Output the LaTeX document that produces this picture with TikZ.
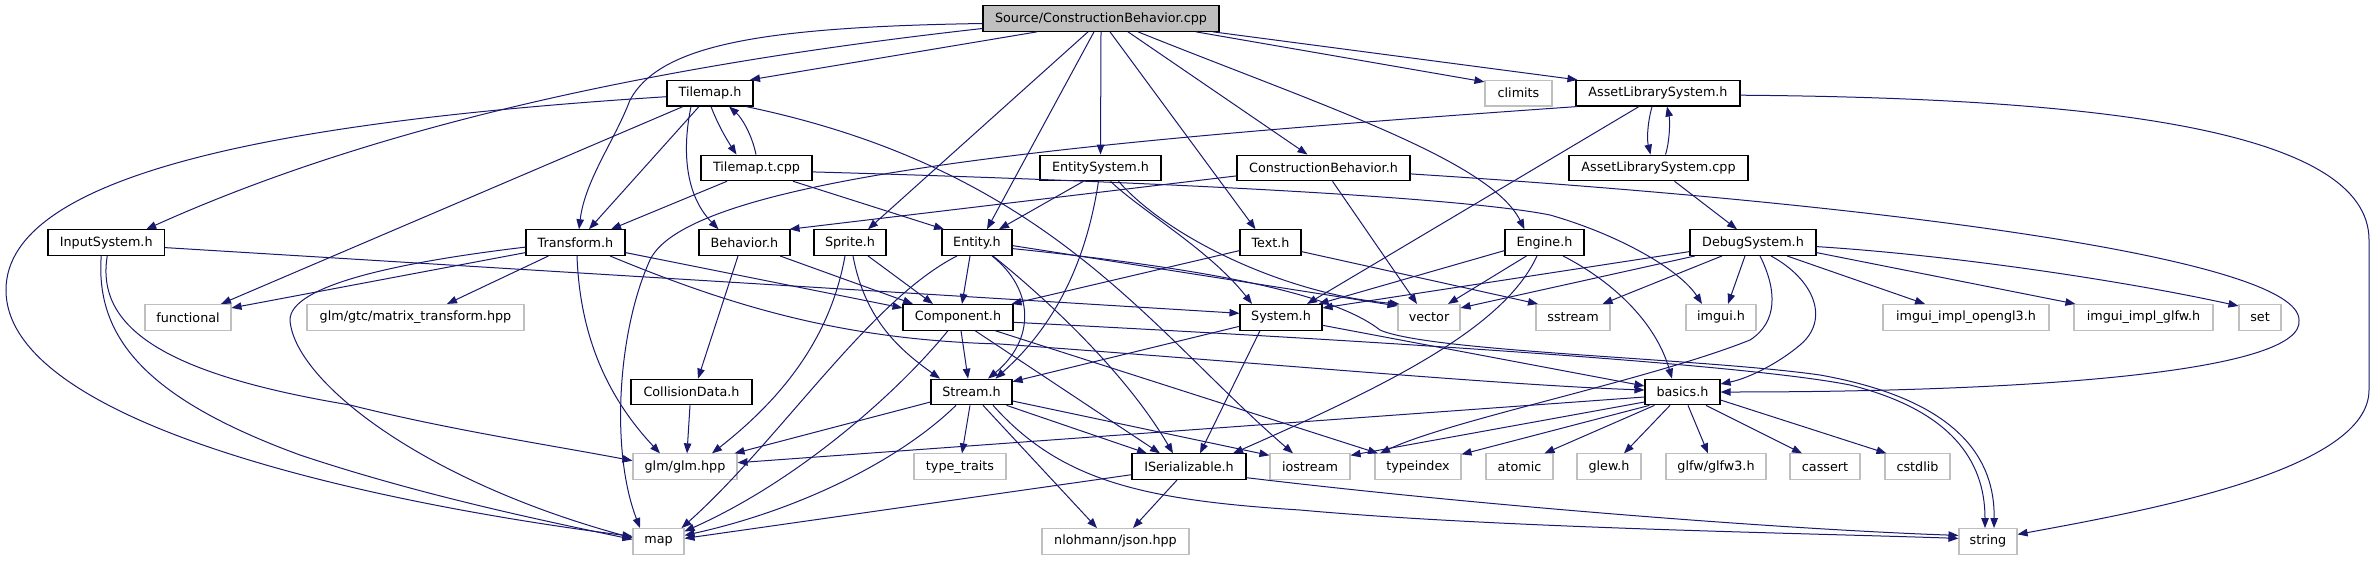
\documentclass[tikz,border=0pt]{standalone}
\usepackage{fontspec}
\setmainfont{DejaVu Sans}
\usetikzlibrary{arrows.meta}
\definecolor{edgeblue}{HTML}{191970}
\definecolor{grayb}{HTML}{BFBFBF}
\begin{document}
\begin{tikzpicture}[x=1pt,y=-1pt,
  font=\fontsize{12.75}{15}\selectfont,
  hdr/.style={draw=black, line width=1.1pt, fill=white, inner sep=0pt, minimum height=25.6pt, anchor=center},
  sysh/.style={hdr, draw=grayb},
  rooth/.style={hdr, fill=grayb},
  lnk/.style={draw=edgeblue, line width=1pt, -{Triangle[length=10pt,width=7.5pt]}}]
\useasboundingbox[fill=white] (0,0) rectangle (2374,560);
% row 0
\node[rooth, minimum width=236pt] (Source) at (1101,18.5) {Source/ConstructionBehavior.cpp};
% row 1
\node[hdr, minimum width=86pt] (Tilemap) at (710,93.2) {Tilemap.h};
\node[sysh, minimum width=67pt] (climits) at (1518.5,93.2) {climits};
\node[hdr, minimum width=164pt] (ALSh) at (1658,93.2) {AssetLibrarySystem.h};
% row 2
\node[hdr, minimum width=111pt] (Tilemapt) at (756.5,167.9) {Tilemap.t.cpp};
\node[hdr, minimum width=121pt] (EntSys) at (1100.5,167.9) {EntitySystem.h};
\node[hdr, minimum width=173pt] (CB) at (1323.5,167.9) {ConstructionBehavior.h};
\node[hdr, minimum width=179pt] (ALScpp) at (1658.5,167.9) {AssetLibrarySystem.cpp};
% row 3
\node[hdr, minimum width=116.5pt] (Input) at (106.25,242.6) {InputSystem.h};
\node[hdr, minimum width=99pt] (Transform) at (575.5,242.6) {Transform.h};
\node[hdr, minimum width=91pt] (Behavior) at (744.5,242.6) {Behavior.h};
\node[hdr, minimum width=72pt] (Sprite) at (850,242.6) {Sprite.h};
\node[hdr, minimum width=70pt] (Entity) at (977,242.6) {Entity.h};
\node[hdr, minimum width=61pt] (Text) at (1270.5,242.6) {Text.h};
\node[hdr, minimum width=79pt] (Engine) at (1544.5,242.6) {Engine.h};
\node[hdr, minimum width=126pt] (Debug) at (1753,242.6) {DebugSystem.h};
% row 4
\node[sysh, minimum width=86pt] (functional) at (188,317.3) {functional};
\node[sysh, minimum width=217pt] (matrix) at (415.5,317.3) {glm/gtc/matrix\_transform.hpp};
\node[hdr, minimum width=110pt] (Component) at (958,317.3) {Component.h};
\node[hdr, minimum width=82pt] (System) at (1281,317.3) {System.h};
\node[sysh, minimum width=62pt] (vector) at (1429,317.3) {vector};
\node[sysh, minimum width=74pt] (sstream) at (1573,317.3) {sstream};
\node[sysh, minimum width=70pt] (imgui) at (1721,317.3) {imgui.h};
\node[sysh, minimum width=166pt] (opengl) at (1966,317.3) {imgui\_impl\_opengl3.h};
\node[sysh, minimum width=139pt] (glfw) at (2143.5,317.3) {imgui\_impl\_glfw.h};
\node[sysh, minimum width=42pt] (setn) at (2260,317.3) {set};
% row 5
\node[hdr, minimum width=121pt] (Collision) at (691.5,392) {CollisionData.h};
\node[hdr, minimum width=81pt] (Stream) at (971.5,392) {Stream.h};
\node[hdr, minimum width=75pt] (basics) at (1682.5,392) {basics.h};
% row 6
\node[sysh, minimum width=104pt] (glm) at (685,466.7) {glm/glm.hpp};
\node[sysh, minimum width=92pt] (typetraits) at (960,466.7) {type\_traits};
\node[hdr, minimum width=114pt] (ISer) at (1189,466.7) {ISerializable.h};
\node[sysh, minimum width=80pt] (iostream) at (1310,466.7) {iostream};
\node[sysh, minimum width=86pt] (typeindex) at (1418,466.7) {typeindex};
\node[sysh, minimum width=67pt] (atomic) at (1519.5,466.7) {atomic};
\node[sysh, minimum width=64pt] (glew) at (1609,466.7) {glew.h};
\node[sysh, minimum width=100pt] (glfwthree) at (1716,466.7) {glfw/glfw3.h};
\node[sysh, minimum width=70pt] (cassert) at (1825,466.7) {cassert};
\node[sysh, minimum width=65pt] (cstdlib) at (1917.5,466.7) {cstdlib};
% row 7
\node[sysh, minimum width=51pt] (map) at (658.5,541.4) {map};
\node[sysh, minimum width=147pt] (json) at (1115.5,541.4) {nlohmann/json.hpp};
\node[sysh, minimum width=58pt] (stringn) at (1988,541.4) {string};

% Source
\draw[lnk] ([xshift=-64]Source.south) -- ([xshift=40]Tilemap.north);
\draw[lnk] ([yshift=-10]Source.west) .. controls (700,60) and (400,115) .. ([xshift=40]Input.north);
\draw[lnk] ([yshift=-5]Source.west) .. controls (760,27) and (660,45) .. (630,100) .. controls (615,140) and (585,180) .. ([xshift=3.5]Transform.north);
\draw[lnk] ([xshift=-13]Source.south) -- ([xshift=18]Sprite.north);
\draw[lnk] ([xshift=-7]Source.south) -- ([xshift=10]Entity.north);
\draw[lnk] (Source.south) -- (EntSys.north);
\draw[lnk] ([xshift=9]Source.south) -- ([xshift=-15]Text.north);
\draw[lnk] ([xshift=27]Source.south) -- ([xshift=-16]CB.north);
\draw[lnk] ([xshift=37]Source.south) .. controls (1320,105) and (1490,160) .. ([xshift=-20]Engine.north);
\draw[lnk] ([xshift=95]Source.south) -- ([yshift=-2]climits.north west);
\draw[lnk] ([xshift=112]Source.south) -- ([xshift=2]ALSh.north west);
% Tilemap.h
\draw[lnk] ([yshift=-3.5]Tilemap.west) .. controls (300,120) and (6,170) .. (6,290) .. controls (6,420) and (350,500) .. ([yshift=5]map.west);
\draw[lnk] ([xshift=-27]Tilemap.south) -- ([xshift=33]functional.north);
\draw[lnk] ([xshift=-11]Tilemap.south) -- ([xshift=13.5]Transform.north);
\draw[lnk] ([xshift=1]Tilemap.south) .. controls (718,125) and (727,140) .. ([xshift=-20]Tilemapt.north);
\draw[lnk] ([xshift=-0.5]Tilemapt.north) .. controls (752,135) and (742,118) .. ([xshift=19]Tilemap.south);
\draw[lnk] ([xshift=-19]Tilemap.south) .. controls (682,150) and (685,195) .. ([xshift=-26]Behavior.north);
\draw[lnk] ([xshift=36]Tilemap.south) .. controls (1050,170) and (1150,330) .. ([xshift=-17]iostream.north);
% Tilemap.t.cpp
\draw[lnk] ([xshift=-29.5]Tilemapt.south) -- ([xshift=35.5]Transform.north);
\draw[lnk] ([xshift=36.5]Tilemapt.south) -- ([xshift=-33]Entity.north);
\draw[lnk] ([yshift=-4]Tilemapt.east) .. controls (1100,180) and (1450,195) .. (1550,215) .. controls (1620,235) and (1680,270) .. ([xshift=-19]imgui.north);
% EntitySystem.h
\draw[lnk] ([xshift=-17]EntSys.south) -- ([xshift=22]Entity.north);
\draw[lnk] ([xshift=-2]EntSys.south) .. controls (1085,270) and (1050,330) .. ([xshift=24]Stream.north);
\draw[lnk] ([xshift=10]EntSys.south) .. controls (1140,210) and (1210,250) .. ([xshift=-29]System.north);
\draw[lnk] ([xshift=18]EntSys.south) .. controls (1170,240) and (1290,295) .. ([xshift=2]vector.north west);
% ConstructionBehavior.h
\draw[lnk] ([yshift=-8]CB.west) -- ([xshift=-1]Behavior.north east);
\draw[lnk] ([xshift=9]CB.south) -- ([xshift=-12]vector.north);
\draw[lnk] ([yshift=-6]CB.east) .. controls (1900,205) and (2299,260) .. (2299,320) .. controls (2305,370) and (2050,392) .. (basics.east);
% AssetLibrarySystem
\draw[lnk] ([xshift=-6]ALSh.south) .. controls (1647,125) and (1647,140) .. ([xshift=-8]ALScpp.north);
\draw[lnk] ([xshift=7]ALScpp.north) .. controls (1670,140) and (1670,120) .. ([xshift=9]ALSh.south);
\draw[lnk] ([xshift=-19]ALSh.south) -- ([xshift=26]System.north);
\draw[lnk] ([xshift=2]ALSh.south west) .. controls (1100,140) and (690,175) .. (650,260) .. controls (618,330) and (610,450) .. ([xshift=-18.5]map.north);
\draw[lnk] ([yshift=-2]ALSh.east) .. controls (2100,98) and (2369,130) .. (2369,240) -- (2369,390) .. controls (2369,470) and (2150,510) .. ([yshift=7]stringn.east);
\draw[lnk] ([xshift=16]ALScpp.south) -- ([xshift=-16]Debug.north);
% InputSystem.h
\draw[lnk] ([yshift=-5]Input.east) -- ([yshift=4]System.west);
\draw[lnk] ([xshift=1]Input.south) .. controls (95,330) and (170,375) .. (350,405) .. controls (450,430) and (550,445) .. ([yshift=6]glm.west);
\draw[lnk] ([xshift=-5]Input.south) .. controls (95,340) and (150,400) .. (300,455) .. controls (420,495) and (540,520) .. ([yshift=2]map.west);
% Transform.h
\draw[lnk] ([yshift=-10]Transform.west) -- ([yshift=-4]functional.north east);
\draw[lnk] ([yshift=-4.5]Transform.west) .. controls (400,262) and (290,285) .. (290,320) .. controls (294,380) and (420,480) .. ([yshift=3.5]map.west);
\draw[lnk] ([xshift=-27]Transform.south) -- ([xshift=31.5]matrix.north);
\draw[lnk] ([xshift=1.5]Transform.south) .. controls (580,340) and (610,400) .. ([xshift=-25]glm.north);
\draw[lnk] ([yshift=-10]Transform.east) -- ([yshift=-4]Component.north west);
\draw[lnk] ([xshift=34.5]Transform.south) .. controls (740,310) and (850,340) .. (1000,344) .. controls (1250,362) and (1500,385) .. ([yshift=2]basics.west);
% Behavior.h
\draw[lnk] ([xshift=-6.5]Behavior.south) -- ([xshift=6.5]Collision.north);
\draw[lnk] ([xshift=35.5]Behavior.south) -- ([xshift=-45]Component.north);
% Sprite.h
\draw[lnk] ([xshift=-5]Sprite.south) .. controls (830,340) and (780,400) .. ([xshift=27]glm.north);
\draw[lnk] ([xshift=3]Sprite.south) .. controls (865,320) and (900,350) .. ([xshift=-31.5]Stream.north);
\draw[lnk] ([xshift=18]Sprite.south) -- ([xshift=-25]Component.north);
% Entity.h
\draw[lnk] ([xshift=-7]Entity.south) -- ([xshift=4]Component.north);
\draw[lnk] ([xshift=15]Entity.south) .. controls (1035,290) and (1035,340) .. ([xshift=16.5]Stream.north);
\draw[lnk] ([xshift=-20]Entity.south) .. controls (870,300) and (780,440) .. ([xshift=-3]map.north east);
\draw[lnk] ([xshift=16]Entity.south) .. controls (1060,310) and (1130,380) .. ([xshift=-16]ISer.north);
\draw[lnk] ([yshift=-3]Entity.east) -- ([yshift=-2]vector.north west);
\draw[lnk] ([yshift=-6]Entity.east) .. controls (1220,270) and (1335,295) .. (1380,330) .. controls (1430,352) and (1700,358) .. (1820,375) .. controls (1960,400) and (1995,460) .. ([xshift=6]stringn.north);
% Component.h
\draw[lnk] ([yshift=-5]Component.east) .. controls (1400,342) and (1750,365) .. (1850,385) .. controls (1950,410) and (1985,460) .. ([xshift=-3]stringn.north);
\draw[lnk] ([xshift=-10]Component.south) .. controls (900,390) and (800,480) .. ([yshift=10]map.east);
\draw[lnk] ([xshift=3]Component.south) -- ([xshift=-3.5]Stream.north);
\draw[lnk] ([xshift=17]Component.south) -- ([xshift=-29]ISer.north);
\draw[lnk] ([xshift=37]Component.south) -- ([xshift=-40]typeindex.north);
% Text.h
\draw[lnk] ([yshift=-8]Text.west) -- ([xshift=-2]Component.north east);
\draw[lnk] ([yshift=-9]Text.east) -- ([xshift=-35]sstream.north);
% Engine.h
\draw[lnk] ([yshift=-8]Engine.west) -- ([xshift=-4]System.north east);
\draw[lnk] ([xshift=-18]Engine.south) -- ([xshift=19]vector.north);
\draw[lnk] ([xshift=-7.5]Engine.south) .. controls (1505,325) and (1400,380) .. ([xshift=44]ISer.north);
\draw[lnk] ([xshift=18.5]Engine.south) .. controls (1610,280) and (1655,320) .. ([xshift=-10.5]basics.north);
% DebugSystem.h
\draw[lnk] ([yshift=-9]Debug.west) -- ([yshift=-4]System.north east);
\draw[lnk] ([xshift=-58]Debug.south) -- ([yshift=-4]vector.north east);
\draw[lnk] ([xshift=-31]Debug.south) -- ([xshift=-8]sstream.north east);
\draw[lnk] ([xshift=-8]Debug.south) -- ([xshift=7]imgui.north);
\draw[lnk] ([xshift=7]Debug.south) .. controls (1777,290) and (1778,322) .. (1750,340) .. controls (1650,380) and (1450,420) .. ([xshift=-38]typeindex.north);
\draw[lnk] ([xshift=18]Debug.south) .. controls (1815,280) and (1830,320) .. (1800,345) .. controls (1780,362) and (1750,378) .. ([yshift=8]basics.east);
\draw[lnk] ([xshift=34]Debug.south) -- ([xshift=-41]opengl.north);
\draw[lnk] ([yshift=-10]Debug.east) -- ([xshift=2]glfw.north west);
\draw[lnk] ([yshift=-4]Debug.east) .. controls (1950,255) and (2120,280) .. ([yshift=-2]setn.north west);
% System.h
\draw[lnk] ([yshift=-8]System.east) -- ([yshift=6]basics.west);
\draw[lnk] ([xshift=-21]System.south) -- ([xshift=11]ISer.north);
\draw[lnk] ([yshift=-9]System.west) -- ([yshift=-3]Stream.north east);
% CollisionData.h
\draw[lnk] ([xshift=-1.5]Collision.south) -- ([xshift=2]glm.north);
% Stream.h
\draw[lnk] ([yshift=-10]Stream.west) -- ([xshift=-3]glm.north east);
\draw[lnk] ([xshift=-15.5]Stream.south) .. controls (900,460) and (800,510) .. ([yshift=6]map.east);
\draw[lnk] ([xshift=-1.5]Stream.south) -- ([xshift=2]typetraits.north);
\draw[lnk] ([xshift=11.5]Stream.south) -- ([xshift=-18.5]json.north);
\draw[lnk] ([xshift=35]Stream.south) -- ([xshift=-42]ISer.north);
\draw[lnk] ([yshift=-9]Stream.east) -- ([yshift=-2]iostream.north west);
\draw[lnk] ([xshift=21.5]Stream.south) .. controls (1060,480) and (1140,500) .. (1300,510) .. controls (1500,528) and (1800,533) .. ([yshift=3]stringn.west);
% ISerializable.h
\draw[lnk] ([xshift=-12]ISer.south) -- ([xshift=17.5]json.north);
\draw[lnk] ([yshift=-8]ISer.west) -- ([yshift=3]map.east);
\draw[lnk] ([yshift=-11]ISer.east) .. controls (1500,508) and (1800,530) .. ([yshift=6]stringn.west);
% basics.h
\draw[lnk] ([yshift=-5]basics.west) -- ([yshift=4]glm.east);
\draw[lnk] ([yshift=-10]basics.west) -- ([yshift=-2]iostream.north east);
\draw[lnk] ([xshift=-33]basics.south) -- ([yshift=-1]typeindex.north east);
\draw[lnk] ([xshift=-28]basics.south) -- ([xshift=25]atomic.north);
\draw[lnk] ([xshift=-12.5]basics.south) -- ([xshift=15]glew.north);
\draw[lnk] ([xshift=5.5]basics.south) -- ([xshift=-8]glfwthree.north);
\draw[lnk] ([xshift=23.5]basics.south) -- ([xshift=-23]cassert.north);
\draw[lnk] ([yshift=-8]basics.east) -- ([xshift=2]cstdlib.north west);
\end{tikzpicture}
\end{document}
